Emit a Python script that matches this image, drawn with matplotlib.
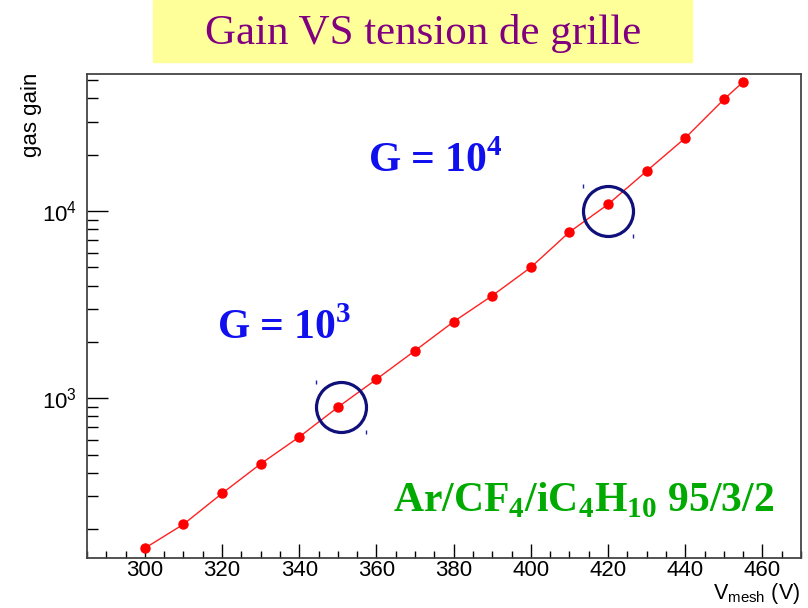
import numpy as np
import matplotlib
matplotlib.use("Agg")
import matplotlib.pyplot as plt
from matplotlib.patches import Rectangle
from matplotlib.transforms import ScaledTranslation
from matplotlib.ticker import LogLocator, MultipleLocator, NullFormatter

plt.rcParams['font.family'] = ['Liberation Sans', 'DejaVu Sans']

# gain scan vs mesh voltage
v_mesh = [300, 310, 320, 330, 340, 350, 360, 370, 380, 390, 400, 410, 420, 430, 440, 450, 455]
gain = [158, 212, 310, 446, 621, 895, 1263, 1795, 2564, 3530, 5004, 7726, 10860, 16360, 24560, 39470, 49000]

# highlighted working points (circles) and their labels
circ_v = [350.9, 420.0]
circ_g = [900.0, 1.0e4]
title = "Gain VS tension de grille"
mix_label = "Ar/CF$_{\\mathregular{4}}$/iC$_{\\mathregular{4}}$H$_{\\mathregular{10}}$ 95/3/2"

W, H = 808, 608
fig = plt.figure(figsize=(W / 100, H / 100), dpi=100)

def fx(px):
    return px / W

def fy(py):
    return 1 - py / H

ax = fig.add_axes([fx(87), fy(558), fx(801) - fx(87), fy(74) - fy(558)])
ax.plot(v_mesh, gain, color='#ff2020', lw=1.0, marker='o', ms=6.5,
        mfc='red', mec='red', zorder=3)
ax.set_yscale('log')
ax.set_xlim(285, 470)
ax.set_ylim(140, 54000)

ax.xaxis.set_major_locator(MultipleLocator(20))
ax.xaxis.set_minor_locator(MultipleLocator(5))
ax.yaxis.set_major_locator(LogLocator(base=10))
ax.yaxis.set_minor_locator(LogLocator(base=10, subs=np.arange(2, 10)))
ax.yaxis.set_minor_formatter(NullFormatter())

ax.tick_params(axis='x', which='both', direction='in', top=False, labelsize=16, pad=1.5)
ax.tick_params(axis='x', which='major', length=10, width=1)
ax.tick_params(axis='x', which='minor', length=5, width=1)
ax.tick_params(axis='y', which='both', direction='in', right=False, labelsize=16, pad=7)
ax.tick_params(axis='y', which='major', length=15, width=1)
ax.tick_params(axis='y', which='minor', length=8, width=1)
for s in ax.spines.values():
    s.set_color('#444444')
    s.set_linewidth(1.3)

# working-point circles with their little selection marks
ax.plot(circ_v, circ_g, ls='none', marker='o', ms=36, mfc='none',
        mec='#10107a', mew=2.3, zorder=4)
for dx, dy in [(-18, 18), (18, -18)]:
    shift = ax.transData + ScaledTranslation(dx / 72, dy / 72, fig.dpi_scale_trans)
    ax.plot(circ_v, circ_g, ls='none', marker='|', ms=2.5, color='#2020a0',
            transform=shift)

# axis titles, ROOT style
fig.text(fx(31), fy(73), 'gas gain', rotation=90, ha='center', va='top', fontsize=16)
fig.text(fx(800), fy(599), 'V$_{\\mathregular{mesh}}$ (V)', ha='right', va='baseline', fontsize=15.5)

# slide header
fig.patches.append(Rectangle((fx(153), fy(62)), fx(692) - fx(153), fy(0) - fy(62),
                             transform=fig.transFigure, color='#ffff99', zorder=0))
fig.text(fx(423), fy(44), title, ha='center', va='baseline', fontsize=31,
         family='Liberation Serif', color='#800080')

serif_bold = dict(family='Liberation Serif', weight='bold', fontsize=30)
fig.text(fx(368), fy(172), 'G = 10$^{\\mathregular{4}}$', ha='left', va='baseline',
         color='#1010ee', **serif_bold)
fig.text(fx(217), fy(339), 'G = 10$^{\\mathregular{3}}$', ha='left', va='baseline',
         color='#1010ee', **serif_bold)
fig.text(fx(393), fy(511), mix_label, ha='left', va='baseline',
         color='#00aa00', **serif_bold)

fig.savefig('out.png', dpi=100)
